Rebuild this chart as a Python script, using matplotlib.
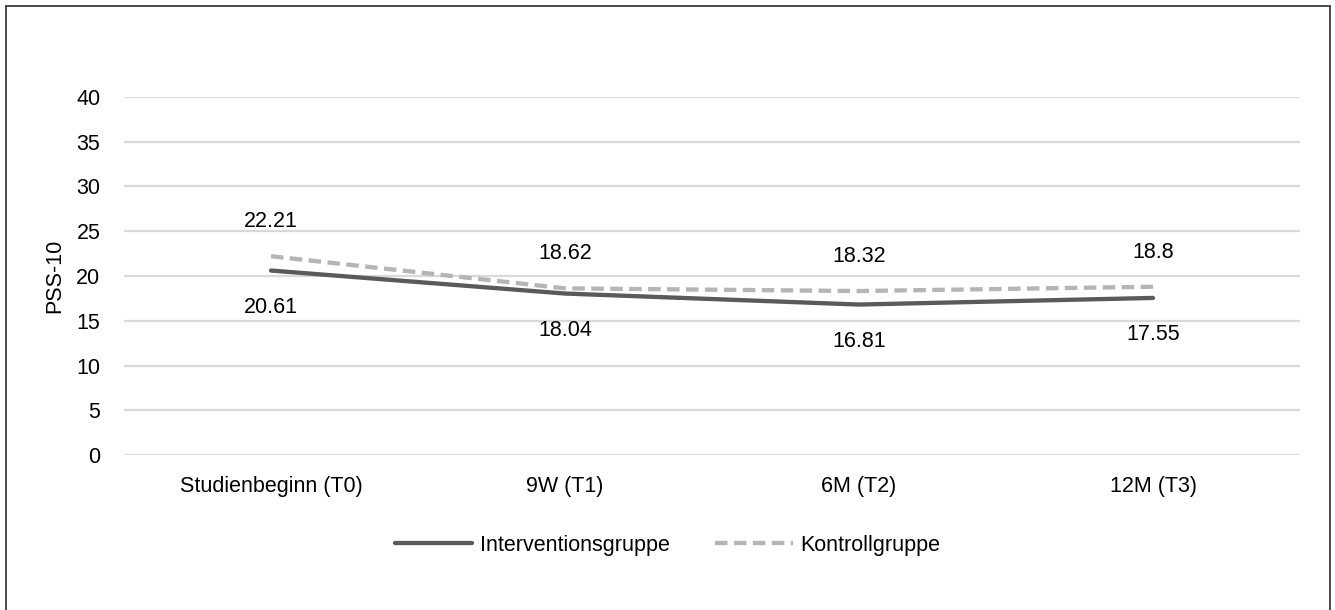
import numpy as np
import matplotlib.pyplot as plt
from matplotlib.patches import Rectangle

plt.rcParams['font.family'] = ['Liberation Sans', 'DejaVu Sans']

# PSS-10 Mittelwerte je Messzeitpunkt
zeitpunkte = ['Studienbeginn (T0)', '9W (T1)', '6M (T2)', '12M (T3)']
intervention = [20.61, 18.04, 16.81, 17.55]
kontrolle = [22.21, 18.62, 18.32, 18.8]

fs = 15.5
x = np.arange(len(zeitpunkte))

fig = plt.figure(figsize=(13.35, 6.1), dpi=100)
ax = fig.add_axes([124/1335, 155/610, 1176/1335, 358/610])

# Rahmen um die ganze Grafik (unten abgeschnitten)
fig.patches.append(Rectangle((6/1335, -0.05), 1324/1335, 1.05 - 6/610,
                             transform=fig.transFigure, fill=False,
                             edgecolor='#3c3c3c', linewidth=1.3))

l1, = ax.plot(x, intervention, color='#5a5a5a', lw=3.1,
              solid_capstyle='round', label='Interventionsgruppe')
l2, = ax.plot(x, kontrolle, color='#b5b5b5', lw=3.1,
              dashes=(2.9, 1.5), label='Kontrollgruppe')

# Datenbeschriftungen
for xi, v in zip(x, kontrolle):
    ax.annotate(f'{v:g}', (xi, v), xytext=(0, 25), textcoords='offset points',
                ha='center', va='center', fontsize=fs)
for xi, v in zip(x, intervention):
    ax.annotate(f'{v:g}', (xi, v), xytext=(0, -26.5), textcoords='offset points',
                ha='center', va='center', fontsize=fs)

ax.set_xlim(-0.5, 3.5)
ax.set_ylim(0, 40)
ax.set_yticks(np.arange(0, 41, 5))
ax.set_xticks(x)
ax.set_xticklabels(zeitpunkte)
ax.grid(axis='y', color='#d9d9d9', lw=1.6)
ax.set_axisbelow(True)
for s in ax.spines.values():
    s.set_visible(False)
ax.tick_params(axis='both', length=0, labelsize=fs)
ax.tick_params(axis='y', pad=17)
ax.tick_params(axis='x', pad=15)

ax.set_ylabel('PSS-10', fontsize=fs)
ax.yaxis.set_label_coords(-0.050, 0.5)

fig.legend(handles=[l1, l2], loc='center', bbox_to_anchor=(0.5, 1 - 545/610),
           ncol=2, frameon=False, fontsize=fs, handlelength=3.6,
           handletextpad=0.35, columnspacing=2.1)

plt.savefig('out.png', dpi=100)
